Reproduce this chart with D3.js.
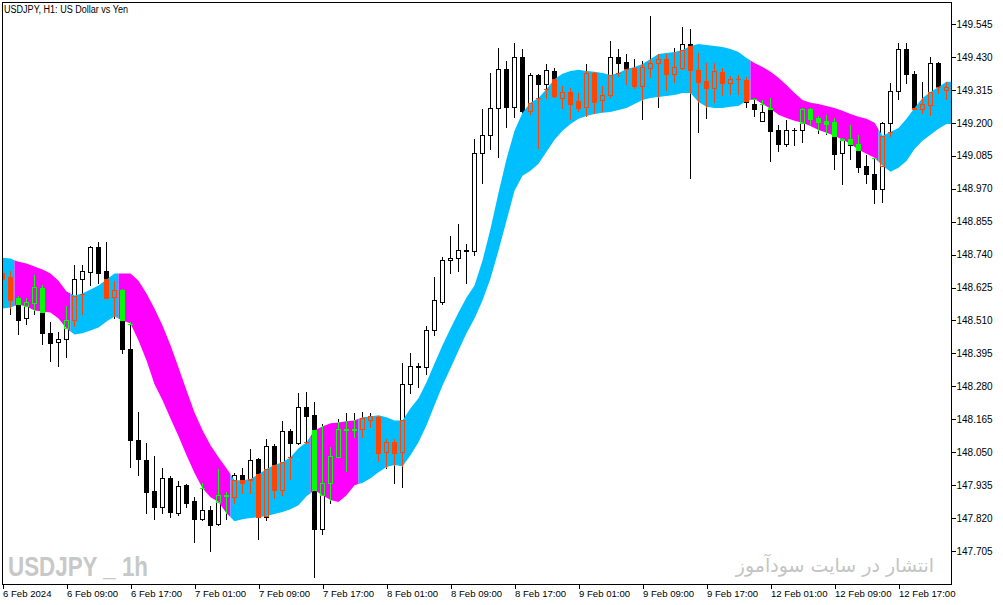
<!DOCTYPE html>
<html><head><meta charset="utf-8">
<script src="https://cdn.jsdelivr.net/npm/d3@7"></script>
<style>html,body{margin:0;padding:0;background:#fff;overflow:hidden;} svg{display:block;}</style>
</head><body>
<svg id="chart" width="1003" height="605"></svg>
<script>
const title = "USDJPY, H1:  US Dollar vs Yen";
const watermark = "USDJPY _ 1h";
const credit = "انتشار در سایت سودآموز";
const tickIndex = [0, 8, 16, 24, 32, 40, 48, 56, 64, 72, 80, 88, 96, 104, 112];
const tickLabels = ["6 Feb 2024","6 Feb 09:00","6 Feb 17:00","7 Feb 01:00","7 Feb 09:00","7 Feb 17:00","8 Feb 01:00","8 Feb 09:00","8 Feb 17:00","9 Feb 01:00","9 Feb 09:00","9 Feb 17:00","12 Feb 01:00","12 Feb 09:00","12 Feb 17:00"];
const priceTicks = [147.705,147.820,147.935,148.050,148.165,148.280,148.395,148.510,148.625,148.740,148.855,148.970,149.085,149.200,149.315,149.430,149.545];

const opens = [148.677,148.660,148.590,148.517,148.570,148.625,148.465,148.433,148.444,148.513,
148.653,148.678,148.768,148.681,148.593,148.618,148.412,148.092,148.022,147.914,
147.858,147.959,147.837,147.935,147.879,147.816,147.848,147.799,147.896,147.893,
147.970,147.952,148.025,147.823,148.071,147.917,148.123,148.081,148.207,148.179,
147.781,147.942,148.032,148.130,148.128,148.130,148.161,148.172,148.050,148.085,
148.050,148.287,148.346,148.346,148.478,148.576,148.722,148.729,148.757,148.752,
149.095,149.158,149.252,149.388,149.256,149.430,149.242,149.367,149.336,149.381,
149.287,149.308,149.277,149.256,149.374,149.280,149.297,149.430,149.412,149.392,
149.329,149.393,149.409,149.423,149.371,149.392,149.475,149.385,149.346,149.322,
149.378,149.339,149.353,149.350,149.266,149.207,149.252,149.175,149.127,149.175,
149.175,149.249,149.217,149.207,149.203,149.095,149.144,149.127,149.050,149.022,
148.970,149.200,149.311,149.458,149.371,149.249,149.263,149.409,149.315];
const highs = [148.702,148.684,148.597,148.587,148.670,148.632,148.506,148.468,148.559,148.705,
148.705,148.771,148.785,148.785,148.649,148.621,148.503,148.189,148.081,148.036,
147.994,147.966,147.949,147.938,147.893,147.942,147.862,147.991,147.910,147.977,
147.994,148.060,148.029,148.095,148.078,148.158,148.130,148.256,148.259,148.224,
148.147,148.067,148.165,148.186,148.186,148.189,148.186,148.175,148.095,148.095,
148.363,148.398,148.360,148.492,148.660,148.733,148.806,148.848,148.778,149.144,
149.249,149.374,149.461,149.416,149.479,149.458,149.374,149.371,149.405,149.392,
149.329,149.322,149.304,149.405,149.378,149.329,149.486,149.458,149.440,149.423,
149.416,149.573,149.440,149.440,149.461,149.534,149.527,149.444,149.409,149.409,
149.392,149.364,149.367,149.360,149.287,149.280,149.287,149.193,149.210,149.182,
149.252,149.252,149.224,149.228,149.217,149.148,149.193,149.158,149.088,149.078,
149.203,149.339,149.479,149.479,149.381,149.343,149.430,149.412,149.343];
const lows = [148.642,148.534,148.461,148.499,148.534,148.426,148.367,148.350,148.384,148.492,
148.534,148.632,148.642,148.587,148.520,148.395,147.998,147.970,147.837,147.816,
147.837,147.823,147.830,147.858,147.736,147.813,147.705,147.797,147.816,147.872,
147.907,147.907,147.747,147.813,147.890,147.900,147.956,148.078,148.081,147.614,
147.764,147.872,148.032,147.984,148.102,148.102,148.137,148.018,147.994,147.942,
147.928,148.256,148.276,148.322,148.458,148.569,148.677,148.684,148.642,148.740,
148.991,149.109,149.081,149.186,149.221,149.238,149.231,149.113,149.287,149.290,
149.252,149.214,149.242,149.224,149.235,149.242,149.290,149.364,149.336,149.322,
149.214,149.360,149.256,149.315,149.343,149.388,149.008,149.168,149.217,149.273,
149.297,149.301,149.301,149.256,149.224,149.205,149.067,149.102,149.120,149.123,
149.134,149.196,149.165,149.161,149.040,148.987,149.074,149.029,148.991,148.921,
148.925,149.155,149.283,149.339,149.249,149.235,149.228,149.304,149.283];
const closes = [148.656,148.583,148.513,148.573,148.626,148.465,148.430,148.444,148.513,148.653,
148.681,148.768,148.677,148.590,148.618,148.412,148.092,148.025,147.910,147.858,
147.959,147.841,147.931,147.872,147.816,147.848,147.795,147.900,147.899,147.970,
147.942,148.022,147.823,148.071,147.917,148.123,148.081,148.207,148.175,147.781,
147.942,148.036,148.130,148.128,148.130,148.168,148.175,148.046,148.085,148.046,
148.287,148.350,148.350,148.478,148.580,148.722,148.729,148.757,148.752,149.095,
149.158,149.252,149.388,149.256,149.430,149.242,149.367,149.336,149.385,149.294,
149.308,149.266,149.252,149.374,149.273,149.297,149.430,149.409,149.392,149.329,
149.395,149.409,149.423,149.371,149.395,149.475,149.385,149.343,149.322,149.381,
149.339,149.353,149.352,149.273,149.249,149.238,149.172,149.127,149.175,149.174,
149.249,149.214,149.203,149.196,149.092,149.144,149.123,149.047,149.022,148.970,
149.200,149.311,149.458,149.371,149.249,149.266,149.409,149.325,149.325];
const upper = [148.729,148.726,148.715,148.709,148.698,148.688,148.674,148.649,148.611,148.597,
148.604,148.618,148.632,148.653,148.674,148.674,148.674,148.649,148.604,148.552,
148.492,148.423,148.346,148.266,148.189,148.127,148.074,148.032,147.994,147.952,
147.952,147.956,147.973,147.991,148.005,148.015,148.032,148.064,148.085,148.127,
148.140,148.151,148.154,148.158,148.161,148.172,148.175,148.179,148.172,148.161,
148.161,148.203,148.238,148.294,148.360,148.423,148.482,148.538,148.590,148.632,
148.719,148.830,148.956,149.074,149.172,149.235,149.270,149.287,149.318,149.353,
149.371,149.381,149.385,149.381,149.378,149.374,149.367,149.374,149.388,149.395,
149.405,149.423,149.440,149.444,149.447,149.454,149.468,149.475,149.472,149.468,
149.465,149.458,149.447,149.426,149.409,149.395,149.378,149.357,149.332,149.304,
149.280,149.270,149.266,149.259,149.252,149.242,149.231,149.221,149.214,149.200,
149.155,149.168,149.182,149.214,149.252,149.287,149.308,149.325,149.343];
const lower = [148.552,148.555,148.566,148.559,148.545,148.541,148.538,148.517,148.482,148.461,
148.465,148.475,148.485,148.506,148.524,148.510,148.499,148.440,148.370,148.287,
148.231,148.168,148.106,148.039,147.977,147.924,147.893,147.876,147.837,147.809,
147.816,147.820,147.823,147.827,147.834,147.841,147.851,147.865,147.896,147.917,
147.900,147.883,147.876,147.900,147.935,147.942,147.959,147.980,147.998,148.005,
148.001,148.039,148.085,148.144,148.214,148.283,148.343,148.405,148.465,148.517,
148.580,148.656,148.754,148.858,148.963,149.015,149.033,149.057,149.099,149.141,
149.172,149.196,149.214,149.224,149.231,149.235,149.238,149.245,149.252,149.266,
149.280,149.287,149.290,149.294,149.297,149.304,149.304,149.273,149.256,149.252,
149.252,149.256,149.259,149.277,149.283,149.266,149.249,149.228,149.217,149.207,
149.200,149.189,149.175,149.165,149.155,149.141,149.127,149.106,149.092,149.078,
149.050,149.029,149.043,149.067,149.109,149.137,149.158,149.179,149.196];
const trend = [1,1,-1,-1,-1,-1,-1,-1,-1,1,
1,1,1,1,1,-1,-1,-1,-1,-1,
-1,-1,-1,-1,-1,-1,-1,-1,-1,1,
1,1,1,1,1,1,1,1,1,-1,
-1,-1,-1,-1,-1,1,1,1,1,1,
1,1,1,1,1,1,1,1,1,1,
1,1,1,1,1,1,1,1,1,1,
1,1,1,1,1,1,1,1,1,1,
1,1,1,1,1,1,1,1,1,1,
1,1,1,1,-1,-1,-1,-1,-1,-1,
-1,-1,-1,-1,-1,-1,-1,-1,-1,-1,
1,1,1,1,1,1,1,1,1];

const UP_BAND = "#00BFFF", DN_BAND = "#FF00FF", UP_CANDLE = "#FF4500", DN_CANDLE = "#00FF00";
const n = opens.length;
const svg = d3.select("#chart");
const plotL = 2.5, plotR = 951.5, plotT = 2.5, plotB = 584.5;
const x = d3.scaleLinear().domain([0, 118]).range([2.5, 946.5]);
const y = d3.scaleLinear().domain([147.705, 149.545]).range([551, 24]);

svg.append("rect").attr("width",1003).attr("height",605).attr("fill","#fff");
svg.append("defs").append("clipPath").attr("id","plot").append("rect")
  .attr("x",plotL).attr("y",plotT).attr("width",plotR-plotL).attr("height",plotB-plotT);
const g = svg.append("g").attr("clip-path","url(#plot)");

function drawCandle(layer, i, o, h, l, c, stroke, bullFill, bearFill){
  const cx = x(i);
  const yo = Math.round(y(o)), yc = Math.round(y(c)), yh = Math.round(y(h)), yl = Math.round(y(l));
  const top = Math.min(yo, yc), bot = Math.max(yo, yc);
  const bull = c > o;
  const gg = layer.append("g").attr("shape-rendering","crispEdges");
  if (yh < top) gg.append("line").attr("x1",cx).attr("x2",cx).attr("y1",yh).attr("y2",top).attr("stroke",stroke);
  if (yl > bot) gg.append("line").attr("x1",cx).attr("x2",cx).attr("y1",bot).attr("y2",yl+1).attr("stroke",stroke);
  if (bot - top < 1) {
    gg.append("line").attr("x1",cx-2.5).attr("x2",cx+2.5).attr("y1",top+0.5).attr("y2",top+0.5).attr("stroke",stroke);
  } else {
    gg.append("rect").attr("x",cx-2).attr("y",top+0.5).attr("width",4).attr("height",bot-top)
      .attr("fill", bull ? bullFill : bearFill).attr("stroke",stroke).attr("stroke-width",1);
  }
}

// base price candles
const baseLayer = g.append("g");
for (let i = 0; i < n; i++) drawCandle(baseLayer, i, opens[i], highs[i], lows[i], closes[i], "#000", "#fff", "#000");

// band
const runs = []; let s = 0;
for (let i = 1; i <= n; i++) if (i === n || trend[i] !== trend[s]) { runs.push([s, i-1]); s = i; }
const area = d3.area().x(d => x(d.i)).y0(d => y(d.lo)).y1(d => y(d.hi));
const bandLayer = g.append("g");
runs.forEach(([a, b]) => {
  const pts = [];
  if (a > 0) pts.push({i: a-0.5, hi: (upper[a-1]+upper[a])/2, lo: (lower[a-1]+lower[a])/2});
  else pts.push({i: -0.5, hi: upper[0], lo: lower[0]});
  for (let k = a; k <= b; k++) pts.push({i: k, hi: upper[k], lo: lower[k]});
  if (b < n-1) pts.push({i: b+0.5, hi: (upper[b]+upper[b+1])/2, lo: (lower[b]+lower[b+1])/2});
  else pts.push({i: b+0.7, hi: upper[b], lo: lower[b]});
  bandLayer.append("path").attr("d", area(pts)).attr("fill", trend[a] > 0 ? UP_BAND : DN_BAND);
});

// candles coloured inside the band
const colLayer = g.append("g");
for (let i = 0; i < n; i++) {
  if (highs[i] < lower[i] || lows[i] > upper[i]) continue;
  const cl = v => Math.max(lower[i], Math.min(upper[i], v));
  const col = trend[i] > 0 ? UP_CANDLE : DN_CANDLE;
  drawCandle(colLayer, i, cl(opens[i]), cl(highs[i]), cl(lows[i]), cl(closes[i]), col, "none", col);
}

// frame
svg.append("rect").attr("x",plotL).attr("y",plotT).attr("width",plotR-plotL).attr("height",plotB-plotT)
  .attr("fill","none").attr("stroke","#000").attr("shape-rendering","crispEdges");

// right axis
const ra = svg.append("g").attr("transform",`translate(${plotR},0)`)
  .call(d3.axisRight(y).tickValues(priceTicks).tickFormat(d3.format(".3f")).tickSize(4).tickPadding(1));
ra.select(".domain").remove();
ra.selectAll("line").attr("stroke","#000").attr("shape-rendering","crispEdges");
ra.selectAll("text").attr("font-family","'Liberation Sans', Arial, sans-serif").attr("font-size","10px").attr("fill","#000");

// bottom axis
const ba = svg.append("g").attr("transform",`translate(0,${plotB})`)
  .call(d3.axisBottom(x).tickValues(tickIndex).tickFormat((d, k) => tickLabels[k]).tickSize(4).tickPadding(2));
ba.select(".domain").remove();
ba.selectAll("line").attr("stroke","#000").attr("shape-rendering","crispEdges");
ba.selectAll("text").attr("text-anchor","start").attr("dx","0")
  .attr("font-family","'Liberation Sans', Arial, sans-serif").attr("font-size","9.6px").attr("fill","#000");

// texts
svg.append("text").attr("x",4).attr("y",13).text(title)
  .attr("font-family","'Liberation Sans', Arial, sans-serif").attr("font-size","10px").attr("fill","#000")
  .attr("textLength",124).attr("lengthAdjust","spacingAndGlyphs");
svg.append("text").attr("x",8).attr("y",576).text(watermark)
  .attr("font-family","'Liberation Sans', Arial, sans-serif").attr("font-weight","bold").attr("font-size","28px")
  .attr("fill","#c8c8c8").attr("textLength",140).attr("lengthAdjust","spacingAndGlyphs");
svg.append("text").attr("x",835).attr("y",572).text(credit).attr("text-anchor","middle")
  .attr("font-family","'DejaVu Sans', 'Noto Sans', sans-serif").attr("font-size","19px").attr("fill","#c4c4c4");
</script>
</body></html>
